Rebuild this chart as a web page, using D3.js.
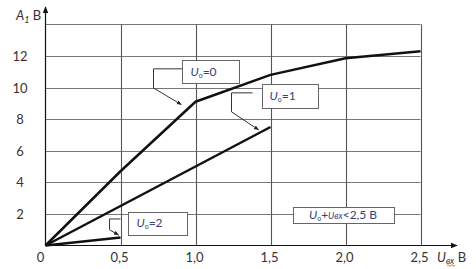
<!DOCTYPE html>
<html>
<head>
<meta charset="utf-8">
<script src="https://d3js.org/d3.v7.min.js"></script>
<style>
  body { margin: 0; background: #fff; }
  svg text { font-family: Lato, "Open Sans", sans-serif; fill: #333; }
</style>
</head>
<body>
<svg id="chart" width="476" height="269"></svg>
<script>
// data (x in volts, y in volts)
var xTicks = [0.5, 1.0, 1.5, 2.0, 2.5];
var xTickLabels = ["0,5", "1,0", "1,5", "2,0", "2,5"];
var yTicks = [2, 4, 6, 8, 10, 12];
var yGrid = [2, 4, 6, 8, 10, 12, 14];

var curveU0 = [[0, 0], [0.5, 4.7], [1.0, 9.1], [1.5, 10.8], [2.0, 11.85], [2.5, 12.3]];
var curveU1 = [[0, 0], [1.5, 7.5]];
var curveU2 = [[0, 0], [0.5, 0.5]];

// annotation boxes: [x0, y0, x1, y1] in data units, label value
var boxes = [
  { x0: 0.913, y0: 11.71, x1: 1.293, y1: 10.25, val: "0" },
  { x0: 1.44, y0: 10.23, x1: 1.813, y1: 8.71, val: "1" },
  { x0: 0.553, y0: 2.13, x1: 0.947, y1: 0.67, val: "2" }
];
var leaders = [
  [[0.913, 11.18], [0.72, 11.18], [0.72, 9.97], [0.905, 8.92]],
  [[1.38, 9.66], [1.24, 9.66], [1.24, 8.46], [1.42, 7.32]],
  [[0.5, 1.68], [0.427, 1.68], [0.427, 0.99], [0.487, 0.67]]
];
var condBox = { x0: 1.647, y0: 2.44, x1: 2.32, y1: 1.43 };

var svg = d3.select("#chart");
var x = d3.scaleLinear().domain([0, 2.5]).range([45.5, 420.5]);
var y = d3.scaleLinear().domain([0, 14]).range([245.5, 24.3]);

// arrow markers
var defs = svg.append("defs");
defs.append("marker").attr("id", "axArrow")
  .attr("viewBox", "0 0 10 10").attr("refX", 9).attr("refY", 5)
  .attr("markerWidth", 6).attr("markerHeight", 6).attr("orient", "auto")
  .append("path").attr("d", "M0,1 L10,5 L0,9 Z").attr("fill", "#111");
defs.append("marker").attr("id", "ldArrow")
  .attr("viewBox", "0 0 10 10").attr("refX", 9).attr("refY", 5)
  .attr("markerWidth", 5).attr("markerHeight", 5).attr("orient", "auto")
  .append("path").attr("d", "M0,1 L10,5 L0,9 Z").attr("fill", "#222");

// grid
svg.append("g").selectAll("line").data(yGrid).enter().append("line")
  .attr("x1", x(0)).attr("x2", x(2.5))
  .attr("y1", function (d) { return Math.round(y(d)) + 0.5; })
  .attr("y2", function (d) { return Math.round(y(d)) + 0.5; })
  .attr("stroke", "#777").attr("stroke-width", 1.1);
svg.append("g").selectAll("line").data(xTicks).enter().append("line")
  .attr("x1", function (d) { return Math.round(x(d)) + 0.5; })
  .attr("x2", function (d) { return Math.round(x(d)) + 0.5; })
  .attr("y1", y(14)).attr("y2", y(0))
  .attr("stroke", "#555").attr("stroke-width", 1.1);

// axes
svg.append("line").attr("x1", x(0)).attr("y1", y(0)).attr("x2", 457).attr("y2", y(0))
  .attr("stroke", "#111").attr("stroke-width", 1.2).attr("marker-end", "url(#axArrow)");
svg.append("line").attr("x1", x(0)).attr("y1", y(0)).attr("x2", x(0)).attr("y2", 7)
  .attr("stroke", "#111").attr("stroke-width", 1.2).attr("marker-end", "url(#axArrow)");

// tick labels
svg.append("g").selectAll("text").data(yTicks).enter().append("text")
  .attr("x", 20).attr("y", function (d) { return y(d) + 5; })
  .attr("text-anchor", "middle").attr("font-size", 13)
  .text(function (d) { return d; });
svg.append("g").selectAll("text").data(xTicks).enter().append("text")
  .attr("x", function (d) { return x(d) - 1; }).attr("y", 262)
  .attr("text-anchor", "middle").attr("font-size", 13)
  .text(function (d, i) { return xTickLabels[i]; });
svg.append("text").attr("x", x(0) - 5).attr("y", 262)
  .attr("text-anchor", "middle").attr("font-size", 13).text("0");

// axis titles
var yt = svg.append("text").attr("x", 16).attr("y", 20).attr("font-size", 13);
yt.append("tspan").attr("font-style", "italic").text("A");
yt.append("tspan").attr("font-size", 9).attr("dy", 3).attr("font-style", "italic").text("1");
yt.append("tspan").attr("dy", -3).text(" В");

var xt = svg.append("text").attr("x", 437).attr("y", 262).attr("font-size", 13);
xt.append("tspan").attr("font-style", "italic").text("U");
xt.append("tspan").attr("font-size", 9).attr("dy", 2).attr("font-style", "italic").text("вх");
xt.append("tspan").attr("dy", -2).text(" В");
svg.append("path").attr("d", "M447,265.5 q1,-1.5 2,0 t2,0 t2,0 t2,0")
  .attr("fill", "none").attr("stroke", "#d33").attr("stroke-width", 0.8);

// curves
var line = d3.line().x(function (d) { return x(d[0]); }).y(function (d) { return y(d[1]); });
[curveU0, curveU1, curveU2].forEach(function (c) {
  svg.append("path").datum(c).attr("d", line)
    .attr("fill", "none").attr("stroke", "#111").attr("stroke-width", 2.5)
    .attr("stroke-linejoin", "round");
});

// leaders
leaders.forEach(function (l) {
  svg.append("path").datum(l).attr("d", line)
    .attr("fill", "none").attr("stroke", "#333").attr("stroke-width", 1)
    .attr("marker-end", "url(#ldArrow)");
});

// annotation boxes
boxes.forEach(function (b) {
  svg.append("rect")
    .attr("x", Math.round(x(b.x0)) + 0.5).attr("y", Math.round(y(b.y0)) + 0.5)
    .attr("width", Math.round(x(b.x1) - x(b.x0))).attr("height", Math.round(y(b.y1) - y(b.y0)))
    .attr("fill", "#fff").attr("stroke", "#666").attr("stroke-width", 1);
  var t = svg.append("text")
    .attr("x", x(b.x0) + 8).attr("y", (y(b.y0) + y(b.y1)) / 2 + 4)
    .attr("font-size", 12).style("fill", "#34427a");
  t.append("tspan").attr("font-style", "italic").text("U");
  t.append("tspan").attr("font-size", 7).attr("dy", 2).text("о");
  t.append("tspan").attr("dy", -2).text("=" + b.val);
});

svg.append("rect")
  .attr("x", Math.round(x(condBox.x0)) + 0.5).attr("y", Math.round(y(condBox.y0)) + 0.5)
  .attr("width", Math.round(x(condBox.x1) - x(condBox.x0)))
  .attr("height", Math.round(y(condBox.y1) - y(condBox.y0)))
  .attr("fill", "#fff").attr("stroke", "#666").attr("stroke-width", 1);
var ct = svg.append("text")
  .attr("x", (x(condBox.x0) + x(condBox.x1)) / 2).attr("y", (y(condBox.y0) + y(condBox.y1)) / 2 + 4)
  .attr("text-anchor", "middle").attr("font-size", 12).style("fill", "#34427a");
ct.append("tspan").attr("font-style", "italic").text("U");
ct.append("tspan").attr("font-size", 7).attr("dy", 2).text("о");
ct.append("tspan").attr("dy", -2).text("+");
ct.append("tspan").attr("font-size", 9).attr("font-style", "italic").text("Uвх");
ct.append("tspan").text("<2,5 В");
</script>
</body>
</html>
